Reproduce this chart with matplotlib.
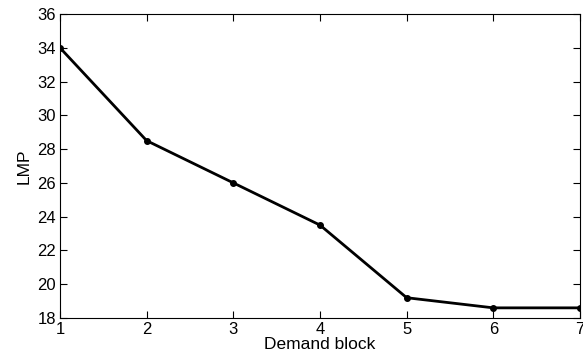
import matplotlib.pyplot as plt

blocks = [1, 2, 3, 4, 5, 6, 7]
lmp = [34.0, 28.5, 26.0, 23.5, 19.2, 18.6, 18.6]

plt.rcParams["font.family"] = ["Liberation Sans", "DejaVu Sans"]

fig = plt.figure(figsize=(5.83, 3.63), dpi=100)
ax = fig.add_axes([0.1029, 0.124, 0.892, 0.8374])

ax.plot(blocks, lmp, color="black", linewidth=2, marker="o", markersize=4)

ax.set_xlim(1, 7)
ax.set_ylim(18, 36)
ax.set_xticks(blocks)
ax.set_yticks(range(18, 37, 2))
ax.tick_params(direction="in", length=5, width=0.8, labelsize=12, top=True, right=True, pad=3)
for side in ax.spines.values():
    side.set_linewidth(0.8)

ax.set_xlabel("Demand block", fontsize=12.5, labelpad=0)
ax.set_ylabel("LMP", fontsize=12.5, labelpad=4)

plt.savefig("out.png", dpi=100)
